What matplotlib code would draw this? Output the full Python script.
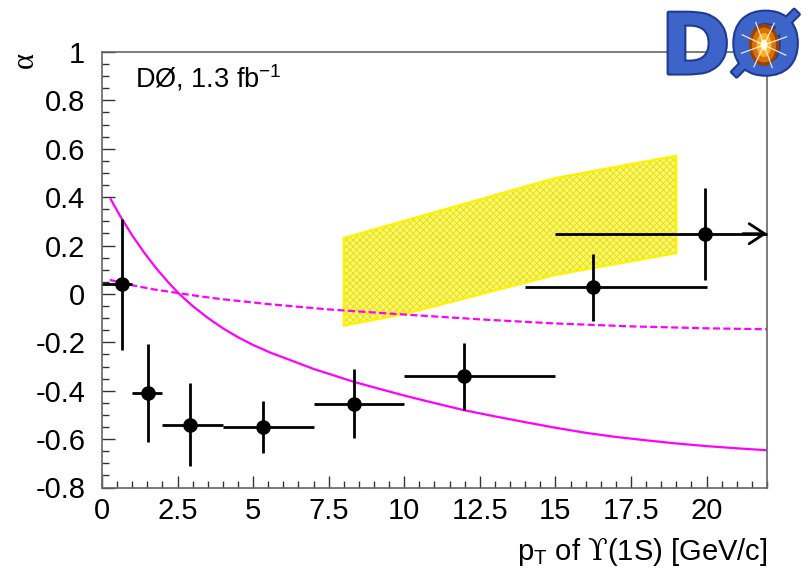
import numpy as np
import matplotlib
matplotlib.use("Agg")
import matplotlib.pyplot as plt
from matplotlib.ticker import MultipleLocator, FixedLocator, FixedFormatter
from matplotlib.patches import Ellipse, Polygon
import matplotlib.patheffects as pe

plt.rcParams['font.family'] = ['Liberation Sans', 'DejaVu Sans']
plt.rcParams['mathtext.fontset'] = 'custom'
plt.rcParams['mathtext.rm'] = 'Liberation Sans'
plt.rcParams['mathtext.it'] = 'Liberation Sans:italic'
plt.rcParams['mathtext.sf'] = 'DejaVu Serif'
plt.rcParams['hatch.linewidth'] = 0.6

# Measured polarization alpha vs pT of Upsilon(1S)
pt = [0.66, 1.53, 2.91, 5.33, 8.35, 11.99, 16.26, 19.94]
pt_low = [0.0, 1.0, 2.0, 4.0, 7.0, 10.0, 14.0, 15.0]
pt_high = [1.0, 2.0, 4.0, 7.0, 10.0, 15.0, 20.0, 22.0]
alpha = [0.04, -0.41, -0.54, -0.549, -0.453, -0.341, 0.027, 0.249]
alpha_err = [0.27, 0.204, 0.173, 0.108, 0.142, 0.137, 0.14, 0.19]

# Theory band (yellow)
band_pt = [8.0, 10.0, 15.0, 19.0]
band_hi = [0.231, 0.302, 0.479, 0.571]
band_lo = [-0.131, -0.083, 0.079, 0.169]

# Model curve (solid magenta)
curve_pt = [0.29, 0.6, 1.0, 1.4, 1.8, 2.2, 2.58, 3.0, 3.5, 4.0, 4.5, 5.0, 5.56,
            6.2, 7.0, 7.7, 8.35, 9.2, 10.0, 11.0, 12.0, 13.0, 14.0, 15.0, 16.0,
            17.0, 18.0, 19.0, 20.0, 21.0, 22.0]
curve_alpha = [0.391, 0.322, 0.242, 0.170, 0.105, 0.047, -0.003, -0.050,
               -0.099, -0.142, -0.179, -0.211, -0.242, -0.272, -0.31, -0.338,
               -0.364, -0.393, -0.420, -0.451, -0.481, -0.506, -0.530, -0.553,
               -0.574, -0.591, -0.605, -0.618, -0.629, -0.638, -0.646]

# Model curve (dashed magenta)
dash_pt = [0.26, 1.0, 1.75, 2.5, 3.25, 4.0, 5.5, 7.5, 10.0, 12.5, 15.0, 17.5,
           20.0, 22.0]
dash_alpha = [0.058, 0.036, 0.018, 0.004, -0.010, -0.022, -0.042, -0.064,
              -0.085, -0.105, -0.122, -0.134, -0.142, -0.146]

xticks = [0, 2.5, 5, 7.5, 10, 12.5, 15, 17.5, 20]
xtick_labels = ['0', '2.5', '5', '7.5', '10', '12.5', '15', '17.5', '20']
yticks = [-0.8, -0.6, -0.4, -0.2, 0, 0.2, 0.4, 0.6, 0.8, 1.0]
ytick_labels = ['-0.8', '-0.6', '-0.4', '-0.2', '0', '0.2', '0.4', '0.6', '0.8', '1']

W, H = 812, 570
fig = plt.figure(figsize=(W / 100, H / 100), dpi=100)
fig.patch.set_facecolor('white')
ax = fig.add_axes([102 / W, 1 - 487.5 / H, 665 / W, 435.5 / H])
ax.set_xlim(0, 22)
ax.set_ylim(-0.8, 1.0)

# yellow band
verts = list(zip(band_pt, band_hi)) + list(zip(band_pt[::-1], band_lo[::-1]))
ax.add_patch(Polygon(verts, closed=True, facecolor='#faf673', edgecolor='#e6df00',
                     hatch='xxxxx', linewidth=0, zorder=1))
ax.add_patch(Polygon(verts, closed=True, facecolor='none', edgecolor='#fff200',
                     linewidth=1.6, zorder=1.5))

# model curves
ax.plot(curve_pt, curve_alpha, color='#ff00ff', lw=1.6, zorder=2,
        solid_joinstyle='round')
ax.plot(dash_pt, dash_alpha, color='#ff00ff', lw=1.6, dashes=(3.2, 1.5), zorder=2)

# data
xerr = [np.array(pt) - np.array(pt_low), np.array(pt_high) - np.array(pt)]
ax.errorbar(pt, alpha, xerr=xerr, yerr=alpha_err, fmt='o', color='black',
            markersize=9.5, elinewidth=2.0, capsize=0, zorder=3, clip_on=False)
ax.annotate('', xy=(pt_high[-1], alpha[-1]), xytext=(pt_high[-1] - 0.8, alpha[-1]),
            arrowprops=dict(arrowstyle='->,head_length=0.55,head_width=0.36',
                            lw=2.0, color='black', shrinkA=0, shrinkB=0,
                            mutation_scale=20),
            annotation_clip=False, zorder=3)

# axes styling
for s in ax.spines.values():
    s.set_color('#666666')
    s.set_linewidth(1.2)
ax.xaxis.set_major_locator(FixedLocator(xticks))
ax.xaxis.set_major_formatter(FixedFormatter(xtick_labels))
ax.xaxis.set_minor_locator(MultipleLocator(0.5))
ax.yaxis.set_major_locator(FixedLocator(yticks))
ax.yaxis.set_major_formatter(FixedFormatter(ytick_labels))
ax.yaxis.set_minor_locator(MultipleLocator(0.05))
ax.tick_params(which='both', direction='in', color='#333333', width=1.0,
               labelsize=21, labelcolor='black')
ax.tick_params(which='major', length=9)
ax.tick_params(which='minor', length=4.8)
ax.tick_params(axis='x', pad=7)
ax.tick_params(axis='y', pad=12)

ax.set_xlabel(r'p$_{\mathrm{T}}$ of $\mathsf{ϒ}$(1S) [GeV/c]', fontsize=21,
              ha='right', va='baseline')
ax.xaxis.set_label_coords(1.0, -(560 - 487.5) / 435.5)

fig.text(25 / W, 1 - 60 / H, 'α', rotation=90, fontsize=22, ha='center',
         va='center', family=['Liberation Serif', 'DejaVu Serif'])

ax.text((135 - 102) / 665, (487.5 - 87.3) / 435.5, r'DØ, 1.3 fb$^{-1}$',
        transform=ax.transAxes, fontsize=19.5, ha='left', va='baseline')

# experiment logo
fig.text(731 / W, 1 - 50 / H, 'DØ', fontsize=60, fontweight='bold',
         color='#3d64c9', ha='center', va='center', family='DejaVu Sans',
         zorder=5,
         path_effects=[pe.withStroke(linewidth=3, foreground='#1f3a94')])
for w, h, c in [(30, 42, '#9a4200'), (24, 35, '#d9700a'), (15, 24, '#ffb020'),
                (7, 11, '#fff6c0')]:
    fig.add_artist(Ellipse((764 / W, 1 - 45 / H), w / W, h / H,
                           transform=fig.transFigure, facecolor=c,
                           edgecolor='none', zorder=6))
for ang in np.deg2rad([20, 65, 110, 155, 200, 245, 290, 335]):
    r = 24
    fig.add_artist(plt.Line2D([764 / W, (764 + r * np.cos(ang)) / W],
                              [1 - 45 / H, 1 - (45 - r * np.sin(ang)) / H],
                              transform=fig.transFigure, color='white',
                              lw=0.9, alpha=0.85, zorder=7))

fig.savefig('out.png', dpi=100, facecolor='white')
